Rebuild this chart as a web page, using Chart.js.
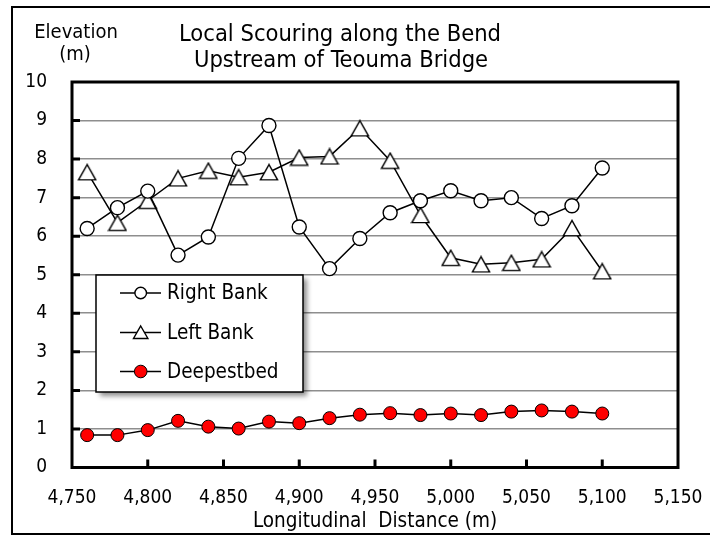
<!DOCTYPE html>
<html>
<head>
<meta charset="utf-8">
<script src="https://cdn.jsdelivr.net/npm/chart.js@4.4.0/dist/chart.umd.min.js"></script>
<style>
  html, body { margin: 0; padding: 0; background: #fff; }
  canvas { display: block; }
</style>
</head>
<body>
<canvas id="c" width="710" height="536"></canvas>
<script>
// Survey stations along the bend (m)
const distances = [4760, 4780, 4800, 4820, 4840, 4860, 4880, 4900, 4920,
                   4940, 4960, 4980, 5000, 5020, 5040, 5060, 5080, 5100];

// Elevations (m)
const rightBank  = [6.20, 6.74, 7.17, 5.51, 5.98, 8.02, 8.87, 6.24, 5.16,
                    5.94, 6.61, 6.92, 7.18, 6.92, 7.00, 6.46, 6.79, 7.77];
const leftBank   = [7.66, 6.35, 6.92, 7.50, 7.70, 7.53, 7.66, 8.04, 8.07,
                    8.80, 7.96, 6.55, 5.44, 5.27, 5.31, 5.40, 6.21, 5.09];
const deepestBed = [0.84, 0.84, 0.97, 1.21, 1.06, 1.01, 1.19, 1.15, 1.28,
                    1.37, 1.41, 1.36, 1.40, 1.36, 1.45, 1.48, 1.45, 1.40];

// Axis ranges and tick spacing
const xRange = [4750, 5150];
const xStep = 50;
const yRange = [0, 10];
const yStep = 1;

const seriesNames = ['Right Bank', 'Left Bank', 'Deepestbed'];
const titleLines = ['Local Scouring along the Bend', 'Upstream of Teouma Bridge'];
const yTitleLines = ['Elevation', '(m)'];
const xTitle = 'Longitudinal  Distance (m)';

const FONT = "'DejaVu Sans Condensed', 'DejaVu Sans', sans-serif";

// Open triangle marker, centred on its bounding box
function makeTriangle(w, h, lw) {
  const c = document.createElement('canvas');
  c.width = w; c.height = h;
  const g = c.getContext('2d');
  g.beginPath();
  g.moveTo(w / 2, lw);
  g.lineTo(w - lw, h - lw);
  g.lineTo(lw, h - lw);
  g.closePath();
  g.fillStyle = '#fff';
  g.fill();
  g.lineWidth = lw;
  g.strokeStyle = '#000';
  g.lineJoin = 'miter';
  g.stroke();
  return c;
}
const triMarker = makeTriangle(20, 18, 1.4);

function pts(values) {
  return distances.map((x, i) => ({ x: x, y: values[i] }));
}

function drawLegendMarker(ctx, kind, x, y) {
  ctx.save();
  ctx.lineWidth = 1.4;
  ctx.strokeStyle = '#000';
  if (kind === 0) {
    ctx.beginPath();
    ctx.arc(x, y, 5.8, 0, Math.PI * 2);
    ctx.fillStyle = '#fff';
    ctx.fill(); ctx.stroke();
  } else if (kind === 1) {
    ctx.beginPath();
    ctx.moveTo(x, y - 6.5);
    ctx.lineTo(x + 7.2, y + 6);
    ctx.lineTo(x - 7.2, y + 6);
    ctx.closePath();
    ctx.fillStyle = '#fff';
    ctx.fill(); ctx.stroke();
  } else {
    ctx.beginPath();
    ctx.arc(x, y, 6.3, 0, Math.PI * 2);
    ctx.fillStyle = '#ff0000';
    ctx.lineWidth = 1;
    ctx.fill(); ctx.stroke();
  }
  ctx.restore();
}

const decor = {
  id: 'decor',
  beforeDraw(chart) {
    const ctx = chart.ctx;
    ctx.save();
    ctx.fillStyle = '#fff';
    ctx.fillRect(0, 0, chart.width, chart.height);
    ctx.restore();
  },
  afterDraw(chart) {
    const ctx = chart.ctx;
    const a = chart.chartArea;
    const xs = chart.scales.x, ys = chart.scales.y;
    ctx.save();

    // plot frame
    ctx.strokeStyle = '#000';
    ctx.lineWidth = 3;
    ctx.strokeRect(a.left, a.top, a.right - a.left, a.bottom - a.top);

    // inward tick marks
    ctx.lineWidth = 3;
    ctx.beginPath();
    for (let v = yRange[0] + yStep; v < yRange[1]; v += yStep) {
      const py = ys.getPixelForValue(v);
      ctx.moveTo(a.left, py);
      ctx.lineTo(a.left + 8, py);
    }
    for (let v = xRange[0] + xStep; v < xRange[1]; v += xStep) {
      const px = xs.getPixelForValue(v);
      ctx.moveTo(px, a.bottom);
      ctx.lineTo(px, a.bottom - 8);
    }
    ctx.stroke();

    // legend box with drop shadow
    const lx = 96, ly = 275, lw = 207, lh = 117;
    ctx.save();
    ctx.shadowColor = 'rgba(0,0,0,0.45)';
    ctx.shadowBlur = 5;
    ctx.shadowOffsetX = 4;
    ctx.shadowOffsetY = 4;
    ctx.fillStyle = '#fff';
    ctx.fillRect(lx, ly, lw, lh);
    ctx.restore();
    ctx.lineWidth = 1.5;
    ctx.strokeStyle = '#000';
    ctx.strokeRect(lx, ly, lw, lh);

    const rows = [293, 332.5, 371.5];
    ctx.font = '20.5px ' + FONT;
    ctx.fillStyle = '#000';
    ctx.textAlign = 'left';
    ctx.textBaseline = 'middle';
    rows.forEach((ry, i) => {
      ctx.beginPath();
      ctx.lineWidth = 1.5;
      ctx.moveTo(120, ry);
      ctx.lineTo(161, ry);
      ctx.stroke();
      drawLegendMarker(ctx, i, 140.7, ry);
      ctx.fillText(seriesNames[i], 167, ry + 1);
    });

    // chart title
    ctx.textAlign = 'center';
    ctx.textBaseline = 'alphabetic';
    ctx.font = '23.5px ' + FONT;
    ctx.fillText(titleLines[0], 340, 40.5);
    ctx.fillText(titleLines[1], 341, 66.5);

    // vertical axis caption
    ctx.font = '20px ' + FONT;
    ctx.fillText(yTitleLines[0], 76, 37.5);
    ctx.fillText(yTitleLines[1], 75, 60);

    // outer border (right edge runs past the canvas)
    ctx.lineWidth = 2;
    ctx.strokeRect(12, 7, 710, 527);
    ctx.restore();
  }
};

new Chart(document.getElementById('c').getContext('2d'), {
  type: 'scatter',
  data: {
    datasets: [
      {
        label: seriesNames[0],
        data: pts(rightBank),
        showLine: true,
        borderColor: '#000',
        borderWidth: 1.5,
        pointStyle: 'circle',
        pointRadius: 7,
        pointBackgroundColor: '#fff',
        pointBorderColor: '#000',
        pointBorderWidth: 1.4
      },
      {
        label: seriesNames[1],
        data: pts(leftBank),
        showLine: true,
        borderColor: '#000',
        borderWidth: 1.5,
        pointStyle: triMarker,
        pointRadius: 9,
        pointBackgroundColor: '#fff',
        pointBorderColor: '#000'
      },
      {
        label: seriesNames[2],
        data: pts(deepestBed),
        showLine: true,
        borderColor: '#000',
        borderWidth: 1.5,
        pointStyle: 'circle',
        pointRadius: 6.5,
        pointBackgroundColor: '#ff0000',
        pointBorderColor: '#000',
        pointBorderWidth: 1
      }
    ]
  },
  options: {
    responsive: false,
    animation: false,
    devicePixelRatio: 1,
    layout: { padding: { top: 82, right: 32, bottom: 0, left: 0 } },
    plugins: {
      legend: { display: false },
      tooltip: { enabled: false },
      title: { display: false }
    },
    scales: {
      x: {
        type: 'linear',
        min: xRange[0],
        max: xRange[1],
        grid: { display: false, drawTicks: false },
        border: { display: false },
        ticks: {
          stepSize: xStep,
          autoSkip: false,
          maxRotation: 0,
          padding: 19,
          color: '#000',
          font: { family: FONT, size: 19 },
          callback: v => v.toLocaleString('en-US')
        },
        title: {
          display: true,
          text: xTitle,
          color: '#000',
          font: { family: FONT, size: 20.5 },
          padding: { top: 0, bottom: 2 }
        },
        afterFit(s) {
          s.height = 68.5;
          // end labels hang into the margins; keep the plot edges fixed
          s.paddingLeft = 0;
          s.paddingRight = 0;
        }
      },
      y: {
        min: yRange[0],
        max: yRange[1],
        grid: { color: '#8e8e8e', lineWidth: 1.6, drawTicks: false },
        border: { display: false },
        ticks: {
          stepSize: yStep,
          padding: 25,
          crossAlign: 'near',
          color: '#000',
          font: { family: FONT, size: 19 }
        },
        afterFit(s) { s.width = 72; }
      }
    }
  },
  plugins: [decor]
});
</script>
</body>
</html>
